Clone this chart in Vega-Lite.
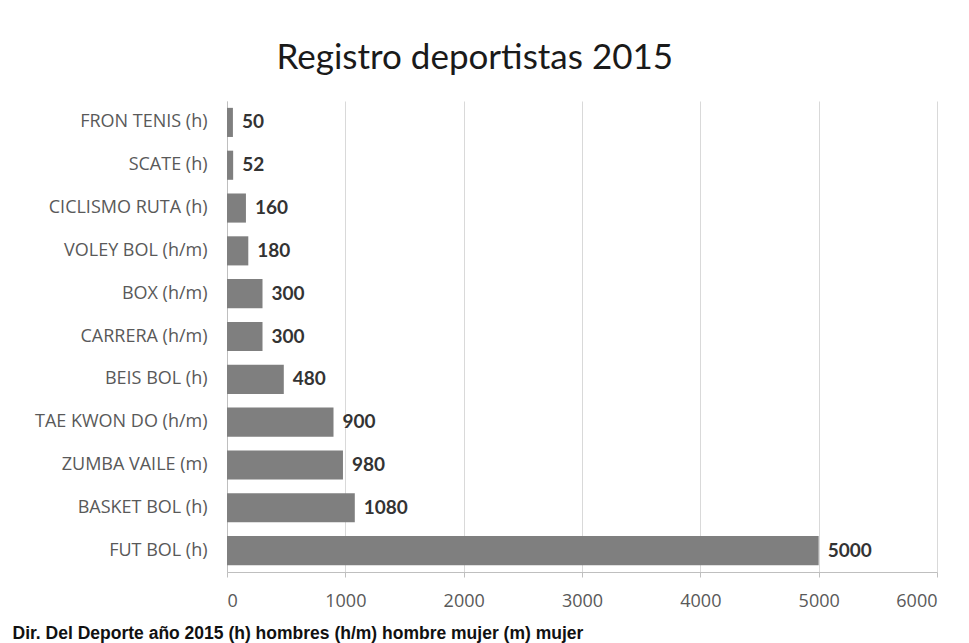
{
  "$schema": "https://vega.github.io/schema/vega-lite/v6.json",
  "width": 710,
  "height": 471,
  "autosize": {"type": "none"},
  "padding": {"left": 227, "top": 101, "right": 32, "bottom": 71},
  "background": "white",
  "title": {
    "text": "Registro deportistas 2015",
    "font": "Lato",
    "fontSize": 35,
    "fontWeight": "normal",
    "color": "#1a1a1a",
    "anchor": "middle",
    "frame": "bounds",
    "offset": 25
  },
  "data": {
    "values": [
      {"deporte": "FRON TENIS (h)", "registros": 50},
      {"deporte": "SCATE (h)", "registros": 52},
      {"deporte": "CICLISMO RUTA (h)", "registros": 160},
      {"deporte": "VOLEY BOL (h/m)", "registros": 180},
      {"deporte": "BOX (h/m)", "registros": 300},
      {"deporte": "CARRERA (h/m)", "registros": 300},
      {"deporte": "BEIS BOL (h)", "registros": 480},
      {"deporte": "TAE KWON DO (h/m)", "registros": 900},
      {"deporte": "ZUMBA VAILE (m)", "registros": 980},
      {"deporte": "BASKET BOL (h)", "registros": 1080},
      {"deporte": "FUT BOL (h)", "registros": 5000}
    ]
  },
  "encoding": {
    "y": {
      "field": "deporte",
      "type": "nominal",
      "sort": null,
      "scale": {"paddingInner": 0.32, "paddingOuter": 0.16},
      "axis": {
        "title": null,
        "ticks": false,
        "domain": true,
        "domainColor": "#bfbfbf",
        "labelFont": "Open Sans",
        "labelFontSize": 18,
        "labelColor": "#595959",
        "labelPadding": 20
      }
    },
    "x": {
      "field": "registros",
      "type": "quantitative",
      "scale": {"domain": [0, 6000], "nice": false},
      "axis": {
        "values": [0, 1000, 2000, 3000, 4000, 5000, 6000],
        "format": "d",
        "grid": true,
        "gridColor": "#d9d9d9",
        "domainColor": "#bfbfbf",
        "tickColor": "#bfbfbf",
        "tickSize": 5,
        "labelFont": "Open Sans",
        "labelFontSize": 18,
        "labelColor": "#595959",
        "labelPadding": 15,
        "title": "Dir. Del Deporte año 2015 (h) hombres (h/m) hombre mujer (m) mujer",
        "titleFont": "Liberation Sans",
        "titleFontSize": 17.5,
        "titleFontWeight": "bold",
        "titleColor": "#111111",
        "titleAnchor": "start",
        "titleBaseline": "alphabetic",
        "titleX": -215,
        "titleY": 66
      }
    }
  },
  "layer": [
    {"mark": {"type": "bar", "color": "#7f7f7f"}},
    {
      "mark": {
        "type": "text",
        "align": "left",
        "baseline": "middle",
        "dx": 9,
        "font": "Lato",
        "fontSize": 19,
        "fontWeight": "bold",
        "color": "#333333"
      },
      "encoding": {"text": {"field": "registros", "type": "quantitative", "format": "d"}}
    }
  ],
  "config": {"view": {"stroke": null}}
}
